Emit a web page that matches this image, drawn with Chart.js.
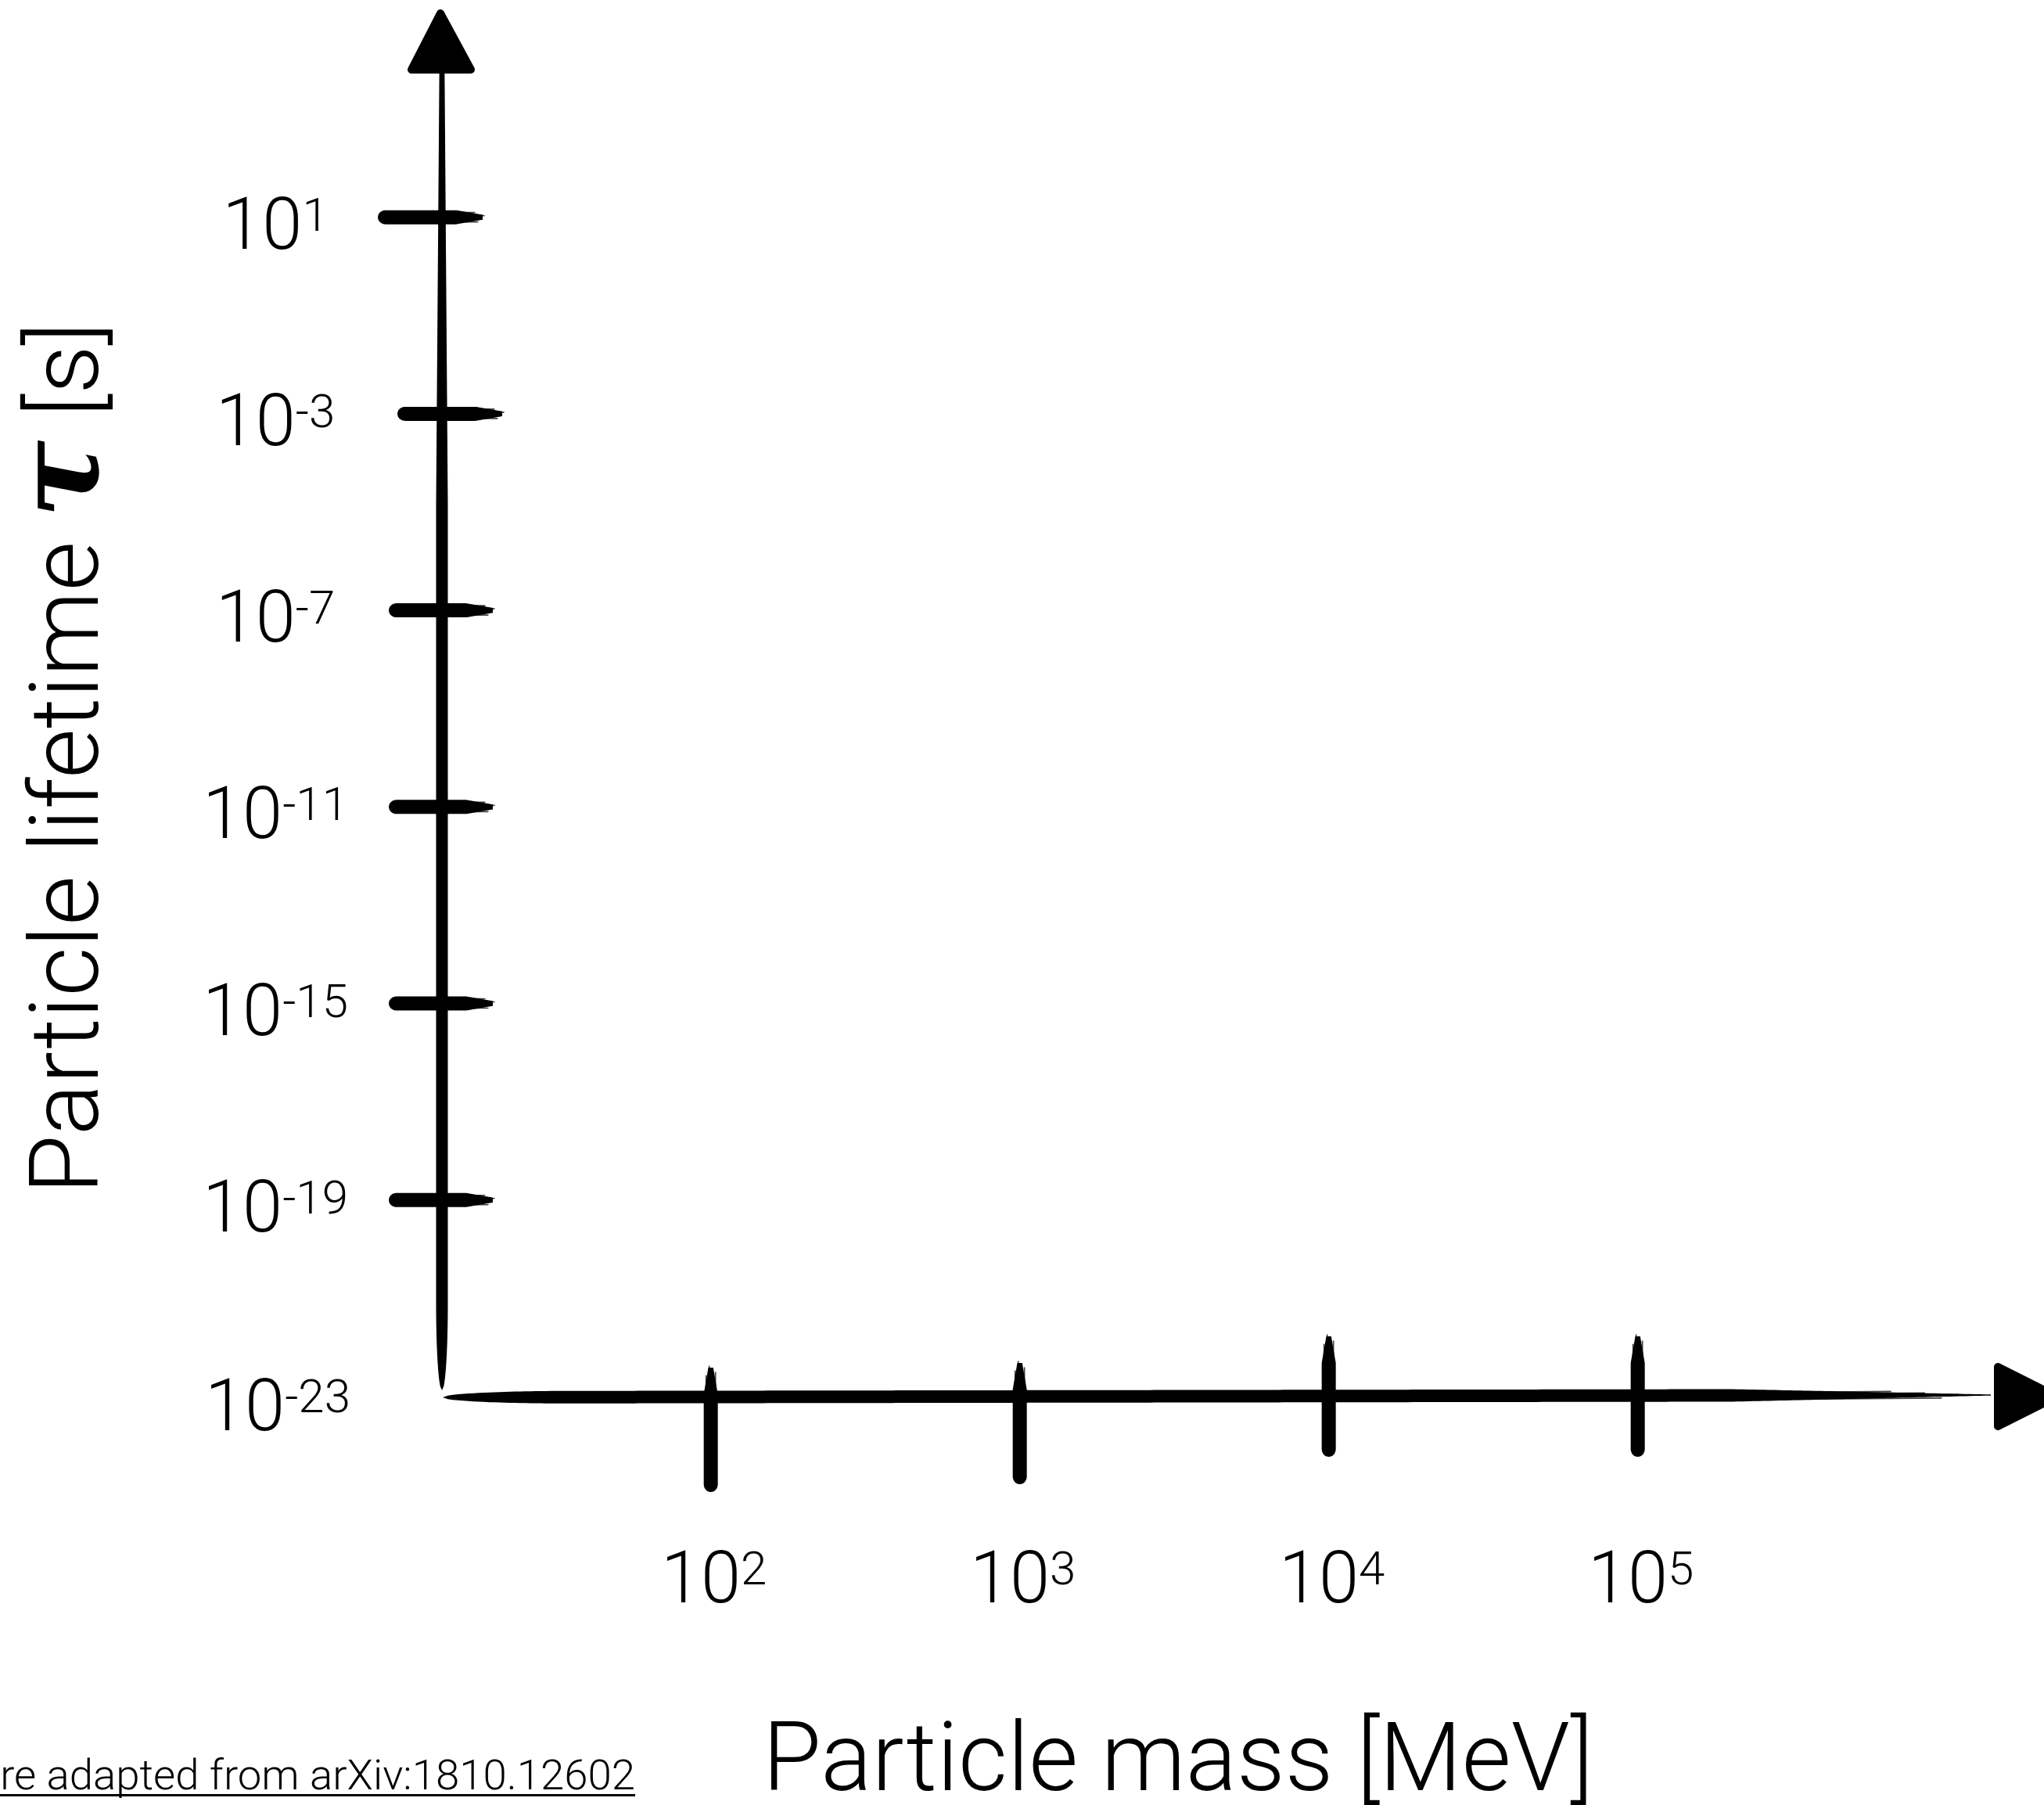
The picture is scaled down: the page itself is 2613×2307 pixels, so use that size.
<!DOCTYPE html>
<html>
<head>
<meta charset="utf-8">
<script src="https://cdn.jsdelivr.net/npm/chart.js@4.4.1/dist/chart.umd.min.js"></script>
<style>
  html, body { margin: 0; padding: 0; background: #fff; }
  canvas { display: block; }
</style>
</head>
<body>
<canvas id="chart" width="2613" height="2307"></canvas>
<script>
// ticks on the mass axis (powers of ten) and their exponents
const massTicks = [1e2, 1e3, 1e4, 1e5];
const massExps = ['2', '3', '4', '5'];
// ticks on the lifetime axis
const lifetimeTicks = [1e1, 1e-3, 1e-7, 1e-11, 1e-15, 1e-19];
const lifetimeExps = ['1', '-3', '-7', '-11', '-15', '-19'];
// the origin carries its own label
const originLifetime = 1e-23;
const originExp = '-23';
// visible extent of both axes
const massRange = [Math.pow(10, 1.13), Math.pow(10, 6.13)];
const lifetimeRange = [1e-23, Math.pow(10, 3.94)];

const xTitle = 'Particle mass [MeV]';
const yTitleParts = ['Particle lifetime ', 'τ', ' [s]'];
const footnote = 'Figure adapted from arXiv:1810.12602';

const FONT = '"Roboto", "Liberation Sans", sans-serif';
const INK = '#000';

// hand drawn look of the tick strokes (offsets from the axis line)
const yTickReach = [[-82, 52], [-57, 77], [-68, 65], [-68, 65], [-68, 65], [-68, 65]];
const xTickReach = [[-37, 122], [-43, 112], [-77, 77], [-77, 77]];

function capProfile(u, cap) {
  const e = cap.shape === 'linear' ? u : Math.sqrt(1 - (1 - u) * (1 - u));
  return cap.min + (1 - cap.min) * e;
}

// filled stroke with tapered ends, like a brush
function brush(ctx, x0, y0, x1, y1, width, capA, capB) {
  const dx = x1 - x0, dy = y1 - y0, len = Math.hypot(dx, dy);
  const nx = -dy / len, ny = dx / len;
  const n = 300;
  const left = [], right = [];
  for (let i = 0; i <= n; i++) {
    const t = i / n, d = t * len;
    let w = width;
    if (d < capA.len) w = Math.min(w, capProfile(d / capA.len, capA) * width);
    if (len - d < capB.len) w = Math.min(w, capProfile((len - d) / capB.len, capB) * width);
    const px = x0 + dx * t, py = y0 + dy * t;
    left.push([px + nx * w / 2, py + ny * w / 2]);
    right.push([px - nx * w / 2, py - ny * w / 2]);
  }
  ctx.beginPath();
  ctx.moveTo(left[0][0], left[0][1]);
  left.forEach(p => ctx.lineTo(p[0], p[1]));
  for (let i = right.length - 1; i >= 0; i--) ctx.lineTo(right[i][0], right[i][1]);
  ctx.closePath();
  ctx.fill();
}

// a few thin bristle streaks at the dry end of a stroke
function bristles(ctx, x0, y0, x1, y1, spread, count) {
  const dx = x1 - x0, dy = y1 - y0, len = Math.hypot(dx, dy);
  const nx = -dy / len, ny = dx / len;
  ctx.save();
  ctx.lineCap = 'round';
  for (let i = 0; i < count; i++) {
    const off = (i / (count - 1) - 0.5) * spread;
    const ext = 0.55 + 0.45 * ((i * 7) % count) / count;
    ctx.lineWidth = 1.6;
    ctx.globalAlpha = 0.75;
    ctx.beginPath();
    ctx.moveTo(x0 + nx * off, y0 + ny * off);
    ctx.lineTo(x0 + dx * ext + nx * off, y0 + dy * ext + ny * off);
    ctx.stroke();
  }
  ctx.restore();
}

function triangle(ctx, pts) {
  ctx.save();
  ctx.lineJoin = 'round';
  ctx.lineWidth = 10;
  ctx.beginPath();
  ctx.moveTo(pts[0][0], pts[0][1]);
  ctx.lineTo(pts[1][0], pts[1][1]);
  ctx.lineTo(pts[2][0], pts[2][1]);
  ctx.closePath();
  ctx.fill();
  ctx.stroke();
  ctx.restore();
}

// "10" with a superscript exponent, centred on cx
function powerLabel(ctx, cx, baseline, exp) {
  ctx.font = `300 92px ${FONT}`;
  const w1 = ctx.measureText('10').width;
  ctx.font = `300 60px ${FONT}`;
  const w2 = ctx.measureText(exp).width;
  const start = cx - (w1 + w2) / 2;
  ctx.textAlign = 'left';
  ctx.textBaseline = 'alphabetic';
  ctx.font = `300 92px ${FONT}`;
  ctx.fillText('10', start, baseline);
  ctx.font = `300 60px ${FONT}`;
  ctx.fillText(exp, start + w1, baseline - 23);
}

function fitSize(ctx, text, weight, target, guess) {
  ctx.font = `${weight} ${guess}px ${FONT}`;
  return guess * target / ctx.measureText(text).width;
}

const sketchAxes = {
  id: 'sketchAxes',
  afterDraw(chart) {
    const { ctx, chartArea: a, scales: { x, y } } = chart;
    const ax = x.getPixelForValue(massRange[0]);
    const ay = y.getPixelForValue(originLifetime);
    ctx.save();
    ctx.fillStyle = INK;
    ctx.strokeStyle = INK;

    // vertical axis and its arrow head
    brush(ctx, ax, ay - 8, ax, a.top, 15,
      { len: 110, min: 0, shape: 'round' }, { len: 550, min: 0.45, shape: 'linear' });
    triangle(ctx, [[ax - 2, a.top - 76], [ax - 39, a.top - 4], [ax + 37, a.top - 4]]);

    // horizontal axis and its arrow head
    const xr = a.right + 5;
    brush(ctx, ax + 1, ay + 1, xr, ay - 2, 16,
      { len: 160, min: 0, shape: 'round' }, { len: 330, min: 0.08, shape: 'linear' });
    bristles(ctx, xr - 260, ay - 1, xr - 20, ay - 3, 9, 5);
    triangle(ctx, [[a.right + 14, ay - 38], [a.right + 14, ay + 38], [a.right + 90, ay]]);

    // lifetime ticks
    lifetimeTicks.forEach((v, i) => {
      const ty = y.getPixelForValue(v);
      const [l, r] = yTickReach[i];
      brush(ctx, ax + l, ty, ax + r, ty, 18,
        { len: 10, min: 0, shape: 'round' }, { len: 34, min: 0.35, shape: 'linear' });
      bristles(ctx, ax + r - 30, ty, ax + r + 6, ty, 12, 4);
      powerLabel(ctx, 352, ty + 40, lifetimeExps[i]);
    });
    powerLabel(ctx, 355, ay + 43, originExp);

    // mass ticks
    massTicks.forEach((v, i) => {
      const tx = x.getPixelForValue(v);
      const [t, b] = xTickReach[i];
      brush(ctx, tx, ay + b, tx, ay + t, 18,
        { len: 10, min: 0, shape: 'round' }, { len: 34, min: 0.35, shape: 'linear' });
      bristles(ctx, tx, ay + t + 30, tx, ay + t - 6, 12, 4);
      powerLabel(ctx, tx + 4, ay + 263, massExps[i]);
    });

    // axis titles
    ctx.textBaseline = 'alphabetic';
    const xs = fitSize(ctx, xTitle, 300, 1062, 120);
    ctx.font = `300 ${xs}px ${FONT}`;
    ctx.textAlign = 'center';
    ctx.fillText(xTitle, 1506, 2288);

    ctx.save();
    ctx.translate(125, 969);
    ctx.rotate(-Math.PI / 2);
    ctx.textAlign = 'left';
    const ys = fitSize(ctx, yTitleParts.join(''), 300, 1078, 120);
    const fonts = [`300 ${ys}px ${FONT}`, `bold italic ${ys * 1.2}px "DejaVu Serif", "Liberation Serif", serif`, `300 ${ys}px ${FONT}`];
    const widths = yTitleParts.map((s, i) => { ctx.font = fonts[i]; return ctx.measureText(s).width; });
    let cx = -widths.reduce((p, q) => p + q, 0) / 2;
    yTitleParts.forEach((s, i) => {
      ctx.font = fonts[i];
      ctx.fillText(s, cx, 0);
      cx += widths[i];
    });
    ctx.restore();

    // footnote, running off the left edge
    const visible = footnote.slice(footnote.indexOf('re adapted'));
    const fs = fitSize(ctx, visible, 300, 812, 52);
    ctx.font = `300 ${fs}px ${FONT}`;
    ctx.textAlign = 'right';
    ctx.fillText(footnote, 812, 2287);
    const fw = ctx.measureText(footnote).width;
    ctx.fillRect(812 - fw, 2293, fw, 3);

    ctx.restore();
  }
};

new Chart(document.getElementById('chart'), {
  type: 'scatter',
  data: { datasets: [{ data: [] }] },
  options: {
    responsive: false,
    animation: false,
    devicePixelRatio: 1,
    layout: { padding: { left: 565, right: 73, top: 93, bottom: 522 } },
    plugins: { legend: { display: false }, tooltip: { enabled: false } },
    scales: {
      x: { type: 'logarithmic', min: massRange[0], max: massRange[1], display: false },
      y: { type: 'logarithmic', min: lifetimeRange[0], max: lifetimeRange[1], display: false }
    }
  },
  plugins: [sketchAxes]
});
</script>
</body>
</html>
